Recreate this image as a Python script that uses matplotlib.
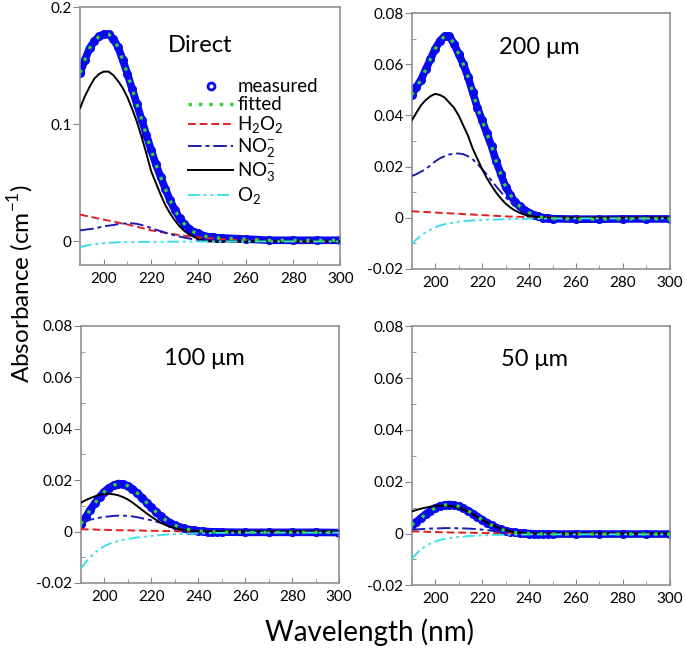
import numpy as np
import matplotlib.pyplot as plt
from matplotlib.lines import Line2D
from matplotlib.ticker import MultipleLocator, FuncFormatter

plt.rcParams['font.family'] = ['Lato', 'DejaVu Sans']
plt.rcParams['mathtext.fontset'] = 'custom'
plt.rcParams['mathtext.rm'] = 'Lato'

# wavelength grid (nm)
wl = list(range(190, 252, 2)) + [260, 270, 280, 290, 300]

# Direct
direct_meas = [.144, .155, .165, .171, .175, .177, .177, .173, .166, .155, .143, .130, .117, .104, .091, .078,
               .066, .055, .045, .035, .027, .020, .015, .011, .008, .007, .005, .004, .004, .003, .003,
               .002, .001, .001, .001, .001]
direct_no3 = [.114, .124, .132, .139, .143, .145, .145, .142, .137, .131, .123, .113, .102, .089, .075, .060,
              .050, .040, .031, .024, .018, .013, .009, .006, .004, .002, .001, 0, 0, 0, 0,
              0, 0, 0, 0, 0]
direct_h2o2 = [.023, .022, .0212, .0203, .0195, .0186, .0178, .017, .0161, .0153, .0145, .0135, .0125, .0115,
               .0105, .0095, .0088, .008, .0073, .0066, .006, .0054, .0049, .0044, .004, .0035, .0032, .0029,
               .0026, .0023, .002, .001, .0005, .0002, .0001, 0]
direct_no2 = [.0095, .010, .0105, .011, .012, .013, .0135, .014, .0148, .0152, .0155, .0155, .015, .014, .0128,
              .0115, .010, .0088, .0075, .0063, .0052, .0042, .0033, .0025, .0018, .0012, .0008, .0005, .0003,
              .0002, .0001, 0, 0, 0, 0, 0]
direct_o2 = [-.0048, -.0038, -.003, -.0024, -.0019, -.0015, -.0012, -.001, -.0008, -.0007, -.0006, -.0005,
             -.0005, -.0004, -.0004, -.0003, -.0003, -.0003, -.0002, -.0002, -.0002, -.0002, -.0001, -.0001,
             -.0001, -.0001, -.0001, 0, 0, 0, 0, 0, 0, 0, 0, 0]

# 200 um
um200_meas = [.048, .051, .054, .058, .062, .066, .069, .071, .071, .068, .064, .060, .055, .049, .043, .038,
              .033, .028, .022, .017, .012, .009, .006, .0045, .003, .002, .001, .0005, 0, -.0002, -.0004,
              -.0006, -.0006, -.0005, -.0005, -.0005]
um200_no3 = [.038, .041, .044, .046, .0475, .0484, .048, .047, .045, .043, .040, .036, .032, .027, .023, .019,
             .0155, .0125, .0098, .0075, .0055, .004, .0028, .0019, .0012, .0007, .0004, .0002, .0001, 0, 0,
             0, 0, 0, 0, 0]
um200_no2 = [.0163, .017, .018, .019, .0205, .022, .0232, .024, .0247, .025, .0251, .0248, .024, .0228, .021,
             .019, .0168, .0145, .0122, .010, .008, .0062, .0046, .0033, .0022, .0014, .0008, .0004, .0002,
             .0001, 0, 0, 0, 0, 0, 0]
um200_h2o2 = [.0025, .0024, .0023, .0022, .0021, .002, .0019, .0018, .0017, .0016, .0015, .0014, .0013, .0012,
              .0011, .001, .0009, .0008, .0007, .0006, .0005, .0004, .0004, .0003, .0003, .0002, .0002, .0001,
              .0001, 0, 0, 0, 0, 0, 0, 0]
um200_o2 = [-.0104, -.0085, -.007, -.0057, -.0047, -.0038, -.0031, -.0026, -.0022, -.0019, -.0016, -.0014,
            -.0012, -.0011, -.001, -.0009, -.0008, -.0008, -.0007, -.0007, -.0006, -.0006, -.0005, -.0005,
            -.0005, -.0004, -.0004, -.0004, -.0004, -.0003, -.0003, -.0003, -.0003, -.0003, -.0003, -.0003]

# 100 um
um100_meas = [.003, .0055, .0085, .011, .0135, .0155, .017, .018, .0187, .0185, .0178, .0165, .015, .0132,
              .0113, .0094, .0077, .006, .0046, .0034, .0025, .0018, .0012, .0008, .0005, .0003, .0001, 0,
              -.0001, -.0002, -.0002, -.0003, -.0003, -.0003, -.0003, -.0004]
um100_no3 = [.0112, .0122, .013, .0137, .0143, .0146, .0147, .0145, .0141, .0134, .0125, .0113, .0099, .0085,
             .0071, .0058, .0046, .0035, .0026, .0019, .0013, .0009, .0006, .0004, .0002, .0001, 0, 0, 0, 0, 0,
             0, 0, 0, 0, 0]
um100_no2 = [.0038, .0042, .0046, .005, .0054, .0057, .0059, .0061, .0062, .0062, .0061, .0059, .0056, .0052,
             .0048, .0044, .0039, .0034, .0029, .0024, .0019, .0015, .0011, .0008, .0005, .0003, .0002, .0001,
             0, 0, 0, 0, 0, 0, 0, 0]
um100_h2o2 = [.0009, .0009, .0008, .0008, .0007, .0007, .0006, .0006, .0005, .0005, .0005, .0004, .0004, .0004,
              .0003, .0003, .0003, .0002, .0002, .0002, .0002, .0001, .0001, .0001, .0001, .0001, 0, 0, 0, 0, 0,
              0, 0, 0, 0, 0]
um100_o2 = [-.0145, -.012, -.0099, -.0082, -.0068, -.0057, -.0048, -.0042, -.0036, -.0032, -.0029, -.0026,
            -.0023, -.0021, -.0019, -.0017, -.0015, -.0014, -.0012, -.0011, -.001, -.0009, -.0009, -.0008,
            -.0008, -.0007, -.0007, -.0006, -.0006, -.0005, -.0005, -.0004, -.0004, -.0004, -.0004, -.0004]

# 50 um
um50_meas = [.0033, .0045, .006, .0075, .0088, .0098, .0106, .011, .0112, .011, .0105, .0097, .0088, .0077,
             .0065, .0053, .0042, .0032, .0023, .0016, .0011, .0007, .0004, .0002, .0001, 0, -.0001, -.0001,
             -.0002, -.0002, -.0002, -.0002, -.0002, -.0002, -.0002, -.0002]
um50_no3 = [.0085, .0091, .0096, .01, .0104, .0106, .0108, .0108, .0107, .0104, .0099, .0092, .0084, .0075,
            .0064, .0053, .0043, .0034, .0026, .0019, .0013, .0009, .0006, .0004, .0002, .0001, 0, 0, 0, 0, 0,
            0, 0, 0, 0, 0]
um50_no2 = [.0015, .0016, .0017, .0018, .0019, .002, .002, .0021, .0021, .0021, .002, .002, .0019, .0018,
            .0017, .0015, .0013, .0011, .0009, .0007, .0005, .0003, .0002, .0001, 0, 0, 0, 0, 0, 0, 0,
            0, 0, 0, 0, 0]
um50_h2o2 = [.0008, .0008, .0007, .0007, .0006, .0006, .0005, .0005, .0004, .0004, .0004, .0003, .0003, .0003,
             .0002, .0002, .0002, .0002, .0001, .0001, .0001, .0001, 0, 0, 0, 0, 0, 0, 0, 0, 0,
             0, 0, 0, 0, 0]
um50_o2 = [-.01, -.0078, -.0061, -.0048, -.0038, -.0031, -.0025, -.0021, -.0018, -.0015, -.0013, -.0012,
           -.001, -.0009, -.0008, -.0007, -.0006, -.0006, -.0005, -.0005, -.0005, -.0004, -.0004, -.0004,
           -.0004, -.0003, -.0003, -.0003, -.0003, -.0003, -.0003, -.0003, -.0003, -.0003, -.0003, -.0003]

titles = ['Direct', '200 μm', '100 μm', '50 μm']
yticks_direct = [0, 0.1, 0.2]
yticks_um = [-0.02, 0, 0.02, 0.04, 0.06, 0.08]
xticks = [200, 220, 240, 260, 280, 300]

panels = [
    (direct_meas, direct_h2o2, direct_no2, direct_no3, direct_o2),
    (um200_meas, um200_h2o2, um200_no2, um200_no3, um200_o2),
    (um100_meas, um100_h2o2, um100_no2, um100_no3, um100_o2),
    (um50_meas, um50_h2o2, um50_no2, um50_no3, um50_o2),
]

# axes boxes [left, bottom, width, height] in figure fractions
boxes = [[0.117, 0.595, 0.380, 0.394],
         [0.601, 0.589, 0.377, 0.391],
         [0.118, 0.1086, 0.377, 0.393],
         [0.601, 0.105, 0.377, 0.396]]
title_pos = [(0.46, 0.853), (0.496, 0.867), (0.48, 0.872), (0.477, 0.873)]

c_meas = '#0a0af0'
c_fit = '#33d633'
c_h2o2 = '#e02020'
c_no2 = '#1c1cb4'
c_no3 = 'black'
c_o2 = '#3ee0e8'

fmt = FuncFormatter(lambda v, p: '0' if abs(v) < 1e-9 else '%g' % v)

fig = plt.figure(figsize=(6.85, 6.54), dpi=100)
for i, (meas, h2o2, no2, no3, o2) in enumerate(panels):
    ax = fig.add_axes(boxes[i])
    # measured: dense circles forming a thick band
    ax.plot(wl, meas, color=c_meas, lw=5.5, solid_capstyle='round', solid_joinstyle='round', zorder=2)
    ax.plot(wl, meas, 'o', color=c_meas, ms=5.5, zorder=2)
    ax.plot(wl, h2o2, color=c_h2o2, lw=1.4, ls=(0, (4, 2)), zorder=3)
    ax.plot(wl, no2, color=c_no2, lw=1.4, ls=(0, (7, 2, 2, 2)), zorder=3)
    ax.plot(wl, no3, color=c_no3, lw=1.4, zorder=3)
    ax.plot(wl, o2, color=c_o2, lw=1.4, ls=(0, (6, 2, 1.5, 2, 1.5, 2)), zorder=3)
    ax.plot(wl, meas, color=c_fit, lw=2.3, ls=(0, (1, 3)), zorder=4)

    ax.set_xlim(190, 300)
    if i == 0:
        ax.set_ylim(-0.02, 0.2)
        ax.set_yticks(yticks_direct)
    else:
        ax.set_ylim(-0.02, 0.08)
        ax.set_yticks(yticks_um)
        ax.yaxis.set_minor_locator(MultipleLocator(0.01))
    ax.yaxis.set_major_formatter(fmt)
    ax.set_xticks(xticks)
    ax.xaxis.set_minor_locator(MultipleLocator(10))
    ax.tick_params(axis='x', which='both', direction='in', color='#888888', labelsize=11, pad=5)
    ax.tick_params(axis='x', which='major', length=4)
    ax.tick_params(axis='x', which='minor', length=3)
    ax.tick_params(axis='y', which='major', direction='out', color='#888888', length=5, labelsize=11, pad=1)
    ax.tick_params(axis='y', which='minor', direction='in', color='#888888', length=3)
    for s in ax.spines.values():
        s.set_color('#909090')
        s.set_linewidth(1.2)

    ax.text(title_pos[i][0], title_pos[i][1], titles[i], transform=ax.transAxes,
            ha='center', va='center', fontsize=17)

    if i == 0:
        handles = [Line2D([], [], marker='o', ls='none', mfc='white', mec=c_meas, mew=2, ms=5),
                   Line2D([], [], color=c_fit, lw=2.5, ls=(0, (1, 2))),
                   Line2D([], [], color=c_h2o2, lw=1.4, ls=(0, (4, 2))),
                   Line2D([], [], color=c_no2, lw=1.4, ls=(0, (7, 2, 2, 2))),
                   Line2D([], [], color=c_no3, lw=1.4),
                   Line2D([], [], color=c_o2, lw=1.4, ls=(0, (6, 2, 1.5, 2, 1.5, 2)))]
        labels = ['measured', 'fitted', 'H$_2$O$_2$', 'NO$_2^{-}$', 'NO$_3^{-}$', 'O$_2$']
        ax.legend(handles, labels, loc='upper left', bbox_to_anchor=(0.38, 0.76), frameon=False,
                  fontsize=13.5, handlelength=2.4, handletextpad=0.2, labelspacing=0.05, borderpad=0)

fig.text(0.03, 0.566, 'Absorbance (cm$^{-1}$)', rotation=90, ha='center', va='center', fontsize=17.5)
fig.text(0.54, 0.033, 'Wavelength (nm)', ha='center', va='center', fontsize=20)

plt.savefig('out.png', dpi=100)
